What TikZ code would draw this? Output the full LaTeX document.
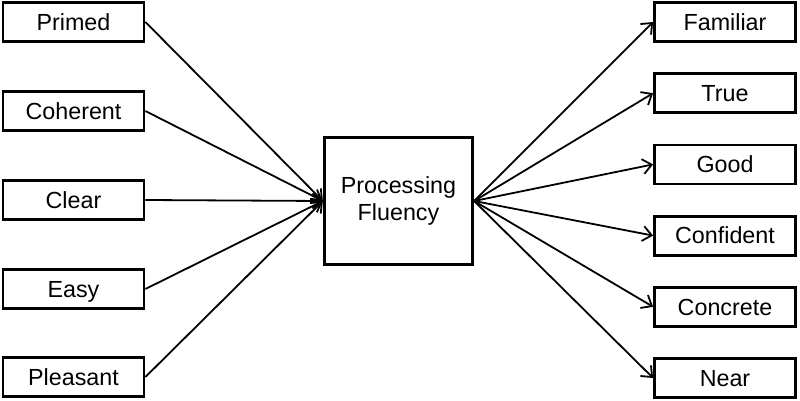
\documentclass[tikz,border=0pt]{standalone}
\usepackage{fontspec}
\setmainfont{Liberation Sans}
\usetikzlibrary{arrows.meta}

\begin{document}
\begin{tikzpicture}[x=1pt, y=-1pt,
    box/.style={draw=black, line width=2.8pt, minimum width=141pt, minimum height=39pt, inner sep=0pt, text height=16.5pt, text depth=0pt, font=\fontsize{23.3}{27}\selectfont},
    link/.style={black, line width=1.8pt, -{Straight Barb[length=9pt, width=15pt]}}]
            \useasboundingbox (0,0) rectangle (800,401);

            % Caja central
            \node[box, text height=, text depth=, minimum width=148.5pt, minimum height=127.5pt, align=center] (fluency) at (398.5,201) {Processing\\Fluency};

            % Causas
            \foreach \name/\txt/\y in {primed/Primed/22, coherent/Coherent/111, clear/Clear/200, easy/Easy/289, pleasant/Pleasant/377}{
                \node[box] (\name) at (73.5,\y) {\txt};
                \draw[link] (\name.east) -- (fluency.west);
            }

            % Efectos
            \foreach \name/\txt/\y in {familiar/Familiar/22, true/True/93.2, good/Good/164.4, confident/Confident/235.6, concrete/Concrete/306.8, near/Near/378}{
                \node[box] (\name) at (725,\y) {\txt};
                \draw[link] (fluency.east) -- (\name.west);
            }
        \end{tikzpicture}
\end{document}
